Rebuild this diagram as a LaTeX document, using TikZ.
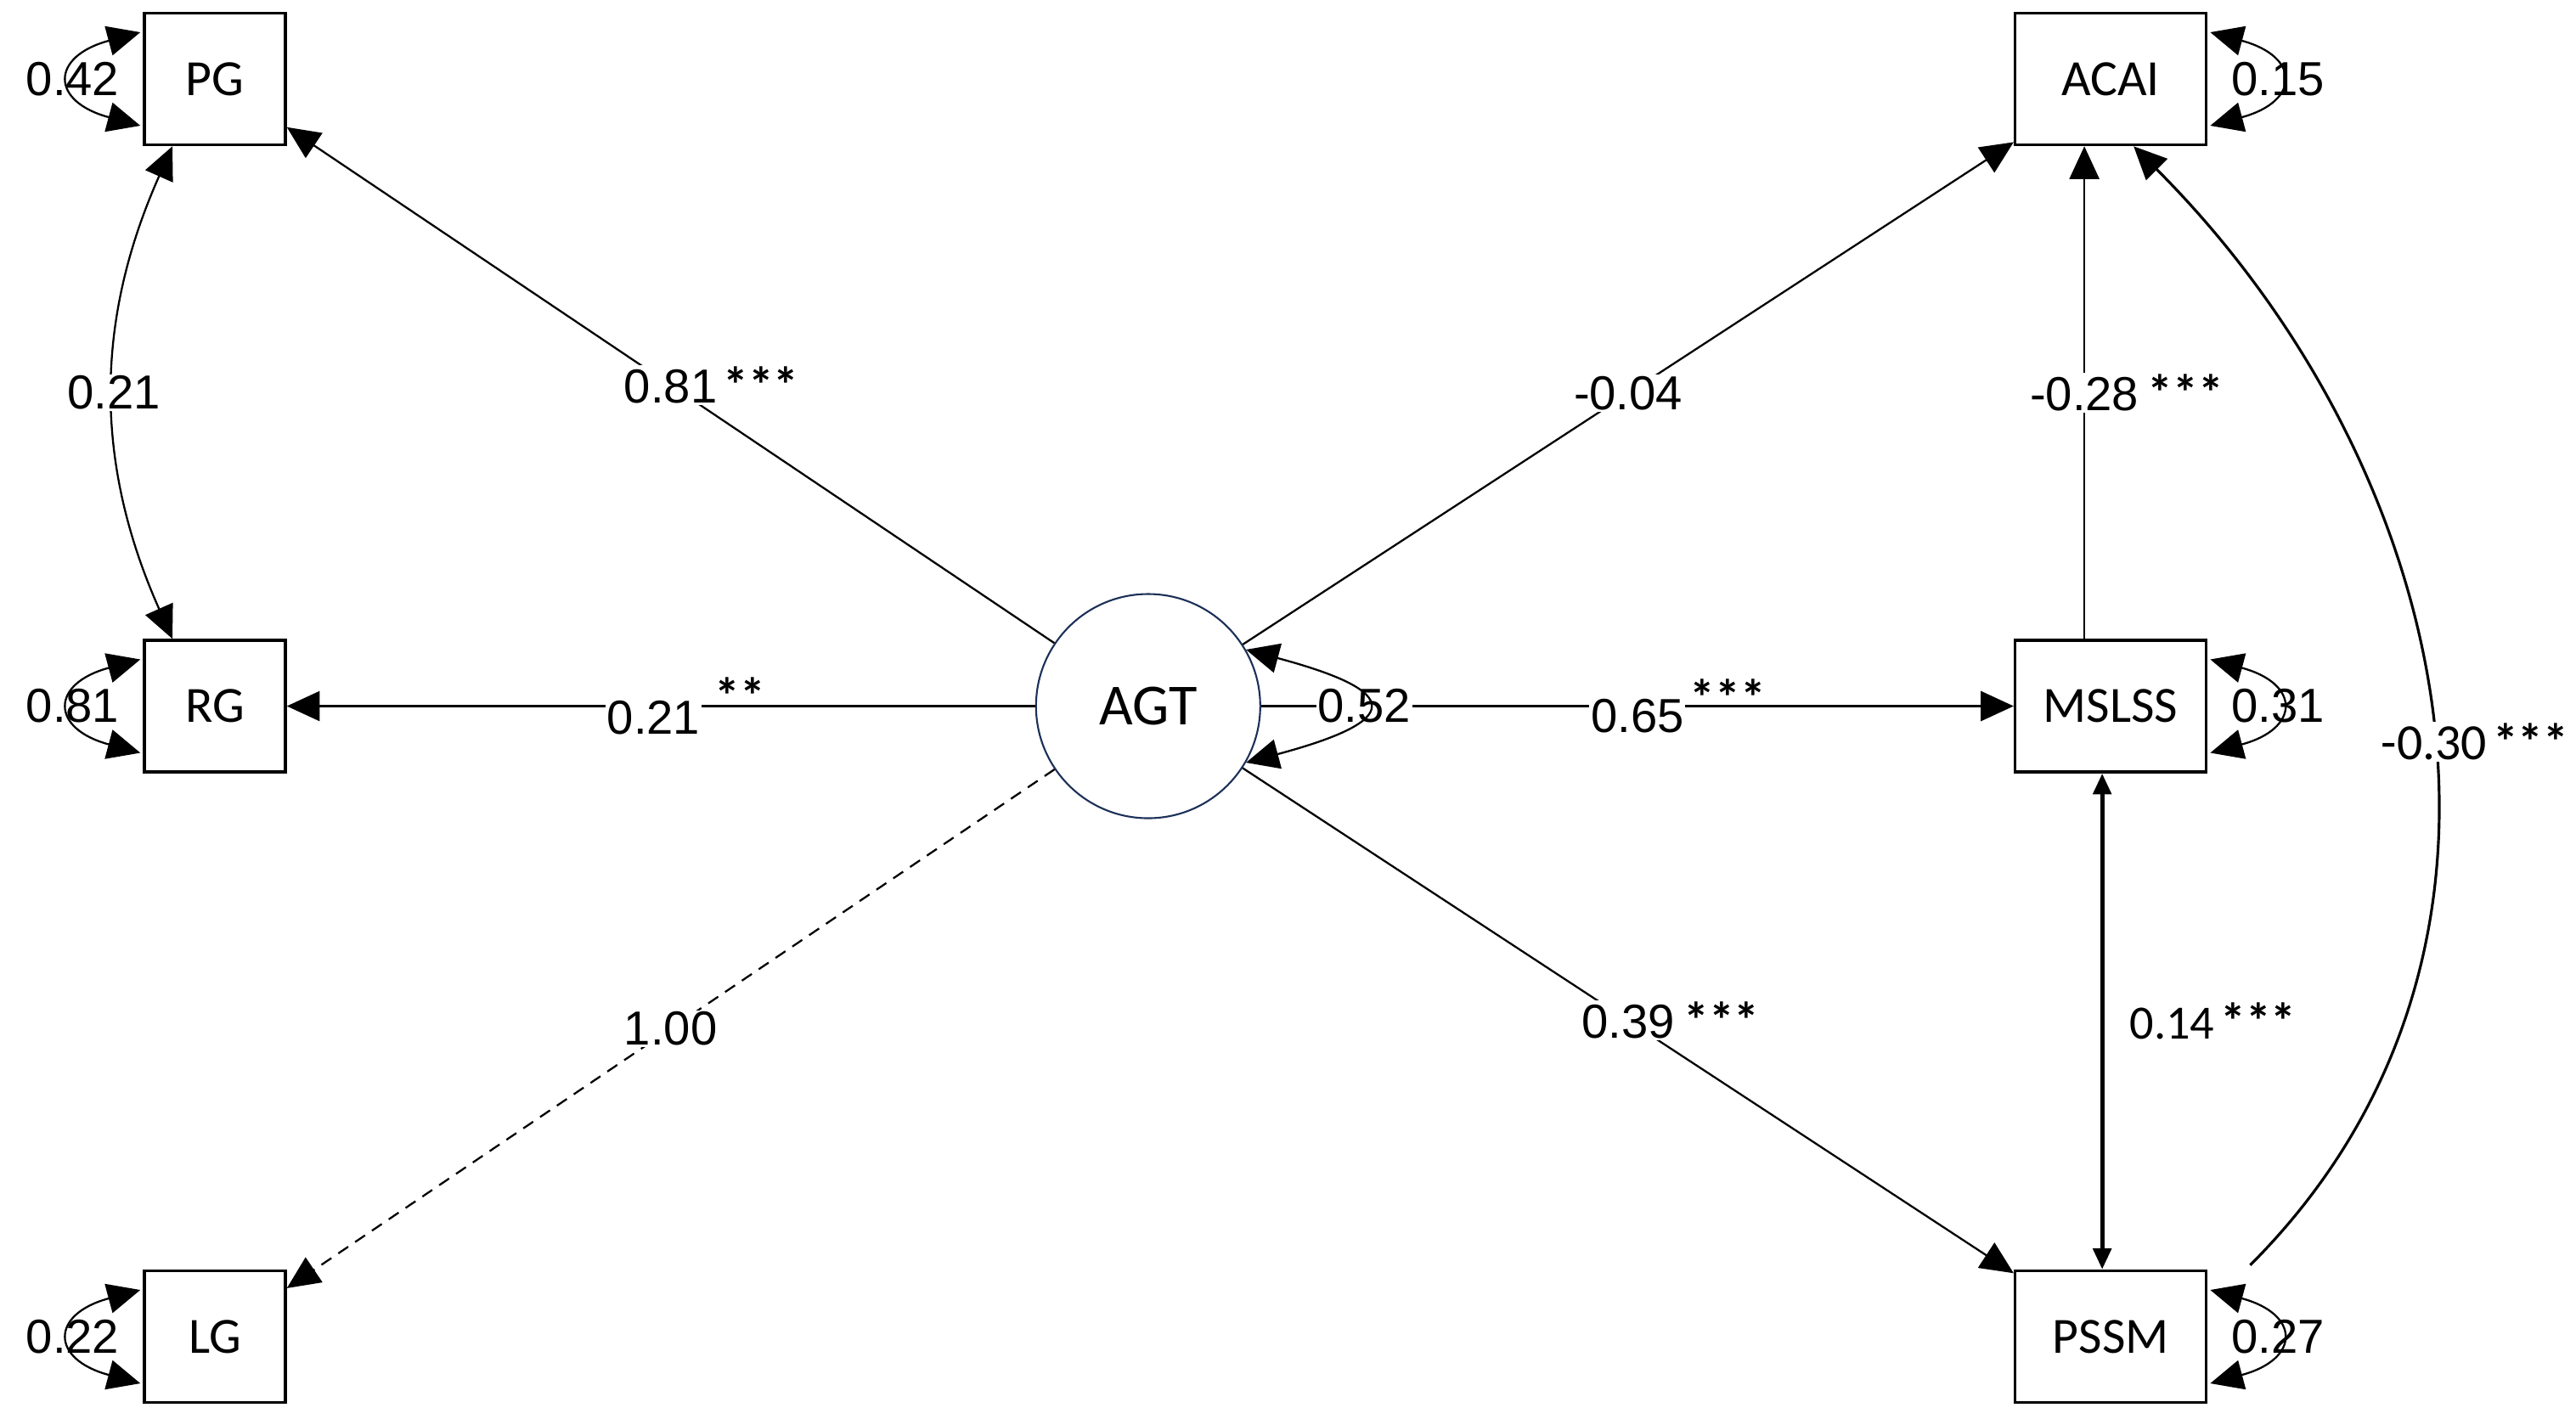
\documentclass[tikz,border=0pt]{standalone}
\usepackage{fontspec}
\setmainfont{Liberation Sans}
\newfontfamily\carlito{Carlito}
\usepackage{tikz}
\usetikzlibrary{arrows.meta, positioning}
\definecolor{AGTNavy}{RGB}{28,48,88}
\tikzstyle{obs} = [rectangle, draw=black, line width=1pt, minimum width=1.66cm, minimum height=1.55cm, inner sep=0pt, font=\carlito\fontsize{17}{20}\selectfont]
\tikzstyle{obswide} = [obs, minimum width=2.25cm]
\tikzstyle{latent} = [circle, draw=AGTNavy, line width=0.6pt, minimum size=2.64cm, inner sep=0pt, font=\carlito\fontsize{19.5}{22}\selectfont]
\tikzstyle{arrow} = [line width=0.65pt, -{Triangle[length=11pt,width=10pt]}]
\tikzstyle{twoway} = [line width=0.65pt, {Triangle[length=11pt,width=10pt]}-{Triangle[length=11pt,width=10pt]}]
\tikzstyle{coef} = [fill=white, inner sep=0.5pt, font=\fontsize{16}{19}\selectfont]
\tikzstyle{coefcal} = [fill=white, inner sep=0.5pt, font=\carlito\fontsize{16}{19}\selectfont]
\tikzstyle{varlbl} = [coef, behind path]
\newcommand{\sig}[2][0pt]{\rlap{\hspace{2pt}\raisebox{#1}{\carlito\bfseries\fontsize{17}{20}\selectfont #2}}}

\begin{document}
\begin{tikzpicture}
  \useasboundingbox (0,0) rectangle (30.33,-16.71);
  \node (pg) [obs] at (2.53,-0.93) {PG};
  \node (rg) [obs, below=5.8cm of pg] {RG};
  \node (lg) [obs, below=5.84cm of rg] {LG};
  \node (agt) [latent, right=8.81cm of rg] {AGT};
  \node (mslss) [obswide, right=8.86cm of agt] {MSLSS};
  \node (acai) [obswide, above=5.8cm of mslss] {ACAI};
  \node (pssm) [obswide, below=5.84cm of mslss] {PSSM};

  % paths
  \draw [arrow] (agt) -- node[coef] {0.81\sig{***}} (pg);
  \draw [arrow] (agt) -- node[coef, pos=0.51] {0.21\sig[7pt]{\hspace{3pt}**}} (rg);
  \draw [arrow, dash pattern=on 4pt off 2.8pt] (agt) -- node[coef] {1.00} (lg);
  \draw [arrow] (agt) -- node[coef] {-0.04} (acai);
  \draw [arrow] (agt) -- node[coef] {0.65\sig[5.5pt]{***}} (mslss);
  \draw [arrow] (agt) -- node[coef] {0.39\sig{\hspace{1pt}***}} (pssm);
  \draw [arrow] ([xshift=-0.31cm]mslss.north) -- node[coef] {-0.28\sig{\hspace{1pt}***}} ([xshift=-0.31cm]acai.south);

  % covariances
  \draw [twoway] ([xshift=-0.5cm]pg.south) to[bend right=24] node[coef] {0.21} ([xshift=-0.5cm]rg.north);
  \draw [line width=1.5pt, {Triangle[length=7pt,width=6pt]}-{Triangle[length=7pt,width=6pt]}] ([xshift=-0.1cm]mslss.south) -- node[coefcal, right=0.28cm] {0.14\sig{***}} ([xshift=-0.1cm]pssm.north);
  \draw [line width=0.9pt, -{Triangle[length=11pt,width=10pt]}] ([xshift=0.5cm,yshift=0.05cm]pssm.north east) to[out=45, in=-45, looseness=1.02] node[coefcal, pos=0.47, font=\carlito\fontsize{17}{20}\selectfont] {-0.30\sig{***}} ([xshift=0.27cm]acai.south);

  % variances
  \draw [twoway] (agt.30) .. controls +(-15:1.92) and +(15:1.92) .. node[varlbl] {0.52} (agt.-30);
  \draw [twoway] ([shift={(-0.03,0.55)}]pg.west) .. controls +(-165:1.1) and +(165:1.1) .. node[varlbl] {0.42} ([shift={(-0.03,-0.55)}]pg.west);
  \draw [twoway] ([shift={(-0.03,0.55)}]rg.west) .. controls +(-165:1.1) and +(165:1.1) .. node[varlbl] {0.81} ([shift={(-0.03,-0.55)}]rg.west);
  \draw [twoway] ([shift={(-0.03,0.55)}]lg.west) .. controls +(-165:1.1) and +(165:1.1) .. node[varlbl] {0.22} ([shift={(-0.03,-0.55)}]lg.west);
  \draw [twoway] ([shift={(0.03,0.55)}]acai.east) .. controls +(-15:1.1) and +(15:1.1) .. node[varlbl] {0.15} ([shift={(0.03,-0.55)}]acai.east);
  \draw [twoway] ([shift={(0.03,0.55)}]mslss.east) .. controls +(-15:1.1) and +(15:1.1) .. node[varlbl] {0.31} ([shift={(0.03,-0.55)}]mslss.east);
  \draw [twoway] ([shift={(0.03,0.55)}]pssm.east) .. controls +(-15:1.1) and +(15:1.1) .. node[varlbl] {0.27} ([shift={(0.03,-0.55)}]pssm.east);

\end{tikzpicture}
\end{document}
